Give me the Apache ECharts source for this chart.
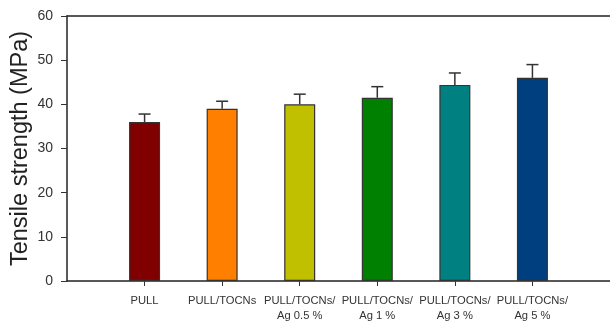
<!DOCTYPE html>
<html>
<head>
<meta charset="utf-8">
<script src="https://cdn.jsdelivr.net/npm/echarts@6/dist/echarts.min.js"></script>
<style>html,body{margin:0;padding:0;background:#fff}#c{width:610px;height:322px}</style>
</head>
<body>
<div id="c"></div>
<script>
const categories = ['PULL', 'PULL/TOCNs', 'PULL/TOCNs/\nAg 0.5 %', 'PULL/TOCNs/\nAg 1 %', 'PULL/TOCNs/\nAg 3 %', 'PULL/TOCNs/\nAg 5 %'];
const values = [36.0, 39.0, 40.0, 41.5, 44.4, 46.0];
const errors = [1.8, 1.7, 2.3, 2.5, 2.7, 3.0];
const colors = ['#800000', '#FF8000', '#C0C000', '#008000', '#008080', '#003F7F'];
const yTicks = [0, 10, 20, 30, 40, 50, 60];

const axisCats = [''].concat(categories, ['']);
const barData = ['-'].concat(values.map((v, i) => ({value: v, itemStyle: {color: colors[i]}})), ['-']);
const errData = values.map((v, i) => [i + 1, v, errors[i]]);

const chart = echarts.init(document.getElementById('c'));
chart.setOption({
  animation: false,
  grid: {left: 67, right: 0, top: 16, bottom: 41, containLabel: false, outerBoundsMode: 'none'},
  xAxis: [{
    type: 'category',
    data: axisCats,
    boundaryGap: false,
    axisLine: {lineStyle: {color: '#222', width: 1.5}},
    axisTick: {show: true, length: 5, lineStyle: {color: '#333'}, interval: (i) => i > 0 && i < axisCats.length - 1},
    axisLabel: {interval: 0, color: '#333', fontFamily: 'Liberation Sans', fontSize: 11.2, lineHeight: 15.5, margin: 12},
    splitLine: {show: false}
  }, {
    type: 'category',
    position: 'top',
    data: axisCats,
    boundaryGap: false,
    axisLine: {show: true, lineStyle: {color: '#222', width: 1.5}},
    axisTick: {show: false},
    axisLabel: {show: false}
  }],
  yAxis: {
    type: 'value',
    min: yTicks[0], max: yTicks[yTicks.length - 1], interval: 10,
    name: 'Tensile strength (MPa)',
    nameLocation: 'middle',
    nameGap: 34,
    nameMoveOverlap: false,
    nameTextStyle: {fontFamily: 'Liberation Sans', fontSize: 23.5, color: '#222'},
    axisLine: {show: true, lineStyle: {color: '#222', width: 1.5}},
    axisTick: {show: true, length: 6, lineStyle: {color: '#333'}},
    axisLabel: {color: '#333', fontFamily: 'Liberation Sans', fontSize: 14, margin: 14},
    splitLine: {show: false}
  },
  series: [{
    type: 'bar',
    data: barData,
    barWidth: 31,
    itemStyle: {borderColor: '#333', borderWidth: 1.2}
  }, {
    type: 'custom',
    data: errData,
    z: 3,
    renderItem: function (params, api) {
      const x = api.value(0), v = api.value(1), e = api.value(2);
      const p0 = api.coord([x, v]);
      const p1 = api.coord([x, v + e]);
      const hw = 6;
      const st = {stroke: '#333', lineWidth: 1.5};
      return {type: 'group', children: [
        {type: 'line', shape: {x1: p0[0], y1: p0[1], x2: p1[0], y2: p1[1]}, style: st},
        {type: 'line', shape: {x1: p1[0] - hw, y1: p1[1], x2: p1[0] + hw, y2: p1[1]}, style: st}
      ]};
    }
  }]
});
</script>
</body>
</html>
